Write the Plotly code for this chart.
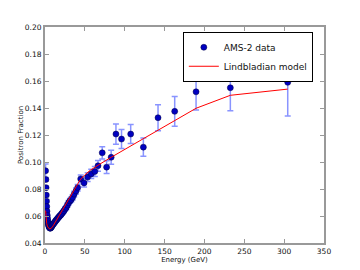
import plotly.graph_objects as go

# AMS-2 positron fraction data
energy = [0.75, 1.1, 1.33, 1.58, 1.84, 2.12, 2.44, 2.77, 3.12, 3.5, 3.9, 4.33, 4.77,
          5.25, 5.75, 6.28, 6.86, 7.48, 8.15, 8.86, 9.58, 10.34, 11.14, 11.97, 12.83,
          13.73, 14.67, 15.65, 16.67, 17.72, 18.81, 19.96, 21.15, 22.42, 23.76, 25.16,
          26.61, 28.1, 29.66, 31.28, 32.95, 34.7, 36.6, 38.9, 41.0, 44.8, 49.0, 53.5,
          58.0, 62.5, 66.5, 71.8, 77.3, 83.0, 89.0, 96.0, 107.5, 123.4, 141.8, 162.7,
          189.5, 232.5, 304.5]
fraction = [0.0935, 0.0870, 0.0810, 0.0755, 0.0710, 0.0670, 0.0635, 0.0605, 0.0582,
            0.0563, 0.0548, 0.0536, 0.0527, 0.0519, 0.0513, 0.0510, 0.0510, 0.0514,
            0.0520, 0.0527, 0.0533, 0.0540, 0.0546, 0.0552, 0.0560, 0.0566, 0.0573,
            0.0580, 0.0588, 0.0595, 0.0602, 0.0609, 0.0618, 0.0628, 0.0638, 0.0652,
            0.0662, 0.0680, 0.0698, 0.0712, 0.0722, 0.0738, 0.0762, 0.0785, 0.0810,
            0.0875, 0.0845, 0.0888, 0.0912, 0.0930, 0.0972, 0.1068, 0.0962, 0.1035,
            0.1207, 0.1170, 0.1207, 0.1110, 0.1328, 0.1375, 0.1520, 0.1550, 0.1590]
fraction_err = [0.0050, 0.0010, 0.0010, 0.0010, 0.0010, 0.0008, 0.0008, 0.0008, 0.0008,
                0.0008, 0.0008, 0.0008, 0.0008, 0.0008, 0.0008, 0.0008, 0.0008, 0.0008,
                0.0008, 0.0008, 0.0008, 0.0009, 0.0009, 0.0009, 0.0009, 0.0010, 0.0010,
                0.0010, 0.0011, 0.0011, 0.0012, 0.0012, 0.0013, 0.0013, 0.0014, 0.0015,
                0.0015, 0.0016, 0.0017, 0.0018, 0.0019, 0.0020, 0.0021, 0.0022, 0.0024,
                0.0028, 0.0030, 0.0032, 0.0034, 0.0037, 0.0040, 0.0045, 0.0048, 0.0052,
                0.0075, 0.0070, 0.0070, 0.0068, 0.0096, 0.0110, 0.0135, 0.0170, 0.0250]

# Lindbladian model curve
model_energy = [0.75, 1.1, 1.6, 2.1, 3.0, 4.0, 5.0, 6.3, 7.5, 9.0, 10.5, 13.0, 16.7,
                20.0, 23.0, 27.0, 31.0, 35.5, 40.0, 44.0, 50.0, 57.0, 69.0, 83.0,
                189.5, 232.5, 304.5]
model_fraction = [0.0640, 0.0600, 0.0565, 0.0545, 0.0525, 0.0513, 0.0507, 0.0504,
                  0.0507, 0.0516, 0.0530, 0.0555, 0.0595, 0.0627, 0.0655, 0.0705,
                  0.0745, 0.0790, 0.0835, 0.0867, 0.0905, 0.0940, 0.0985, 0.1035,
                  0.1398, 0.1494, 0.1540]

x_ticks = [0, 50, 100, 150, 200, 250, 300, 350]
y_ticks = [0.04, 0.06, 0.08, 0.10, 0.12, 0.14, 0.16, 0.18, 0.20]

fig = go.Figure()
fig.add_trace(go.Scatter(
    x=energy, y=fraction, mode="markers", name="AMS-2 data",
    marker=dict(color="#0000c0", size=6, line=dict(color="#000040", width=0.5)),
    error_y=dict(type="data", array=fraction_err, visible=True,
                 color="rgba(40,60,255,0.55)", thickness=1.5, width=3),
))
fig.add_trace(go.Scatter(
    x=model_energy, y=model_fraction, mode="lines", name="Lindbladian model",
    line=dict(color="red", width=1),
))

axis_common = dict(
    showline=True, linecolor="#999999", linewidth=2, mirror="ticks",
    ticks="inside", ticklen=4, tickcolor="#999999", tickwidth=1,
    showgrid=False, zeroline=False, automargin=False,
    tickfont=dict(family="DejaVu Sans", size=7.5, color="#111111"),
)

fig.update_xaxes(range=[0, 350], tickvals=x_ticks, ticktext=[str(v) for v in x_ticks],
                 title=dict(text="Energy (GeV)", font=dict(family="DejaVu Sans", size=7, color="#111111"),
                            standoff=2),
                 **axis_common)
fig.update_yaxes(range=[0.04, 0.20], tickvals=y_ticks, ticktext=[f"{v:.2f}" for v in y_ticks],
                 title=dict(text="Positron Fraction", font=dict(family="DejaVu Sans", size=7, color="#111111"),
                            standoff=0),
                 **axis_common)

# page body adds an 8px offset, margins compensate for it
fig.update_layout(
    width=352, height=262,
    margin=dict(l=37, r=36, t=19, b=27, autoexpand=False),
    plot_bgcolor="white", paper_bgcolor="white",
    font=dict(family="DejaVu Sans", color="#111111"),
    legend=dict(x=0.96, y=0.978, xanchor="right", yanchor="top",
                bgcolor="white", bordercolor="black", borderwidth=1,
                font=dict(family="DejaVu Sans", size=9, color="#111111"),
                tracegroupgap=0, itemwidth=30),
    showlegend=True,
)

fig.write_html("out.html")
